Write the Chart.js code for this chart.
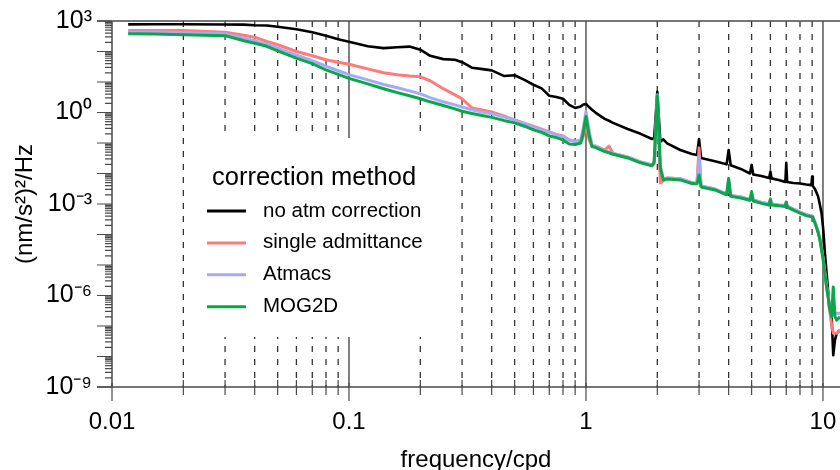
<!DOCTYPE html>
<html>
<head>
<meta charset="utf-8">
<script src="https://cdn.jsdelivr.net/npm/chart.js@4/dist/chart.umd.min.js"></script>
<style>
html,body{margin:0;padding:0;background:#ffffff;}
canvas{display:block;}
</style>
</head>
<body>
<canvas id="c" width="840" height="470"></canvas>
<script>
// ---------------- data ----------------
const frequency = [0.0117,0.015,0.02,0.03,0.036,0.04,0.045,0.05,0.06,0.07,0.08,0.09,0.1,0.12,0.14,0.16,0.18,0.2,0.22,0.25,0.28,0.3,0.33,0.36,0.4,0.45,0.5,0.55,0.6,0.65,0.7,0.75,0.8,0.85,0.9,0.95,0.97,1.0,1.03,1.06,1.1,1.2,1.25,1.3,1.5,1.7,1.9,1.94,2.0,2.06,2.12,2.2,2.5,2.8,2.94,3.0,3.06,3.5,3.92,4.0,4.08,4.5,4.92,5.0,5.08,5.5,5.93,6.0,6.07,6.5,6.94,7.0,7.06,7.5,8.0,8.5,8.94,9.0,9.06,9.25,9.55,9.71,9.87,10.03,10.19,10.36,10.53,10.63,10.88,11.05,11.23,11.42,11.8];

const noAtmCorrection = [776,785,785,767,759,724,708,646,537,427,331,251,209,148,129,138,145,115,72.4,56.2,53.7,44.7,29.5,26.9,24.0,15.8,16.6,11.7,8.13,6.17,3.55,3.24,2.82,1.78,1.41,1.58,1.78,1.91,1.51,1.23,0.977,0.617,0.537,0.457,0.288,0.200,0.135,0.148,4.79,0.110,0.132,0.0977,0.0589,0.0437,0.0407,0.135,0.0324,0.0251,0.0200,0.0589,0.0186,0.0141,0.0100,0.0191,0.00933,0.00832,0.00708,0.0115,0.00692,0.00617,0.00525,0.0224,0.00525,0.00490,0.00468,0.00437,0.00417,0.00794,0.00389,0.00309,0.00174,9.33e-4,4.90e-4,1.41e-4,2.45e-5,5.37e-6,1.20e-6,4.79e-7,2.00e-7,1.10e-8,3.39e-8,5.75e-8,7.24e-8];

const singleAdmittance = [490,490,490,427,339,295,214,166,100,72.4,53.7,44.7,38.0,26.9,20.0,17.4,15.8,14.8,11.0,6.03,3.80,2.82,1.41,1.23,1.05,0.776,0.575,0.437,0.355,0.282,0.229,0.191,0.170,0.126,0.117,0.117,0.148,0.447,0.132,0.0794,0.0794,0.0589,0.0794,0.0457,0.0347,0.0240,0.0191,0.0204,2.63,0.00490,0.00575,0.00708,0.00676,0.00501,0.00490,0.0692,0.00389,0.00309,0.00214,0.00417,0.00191,0.00170,0.00141,0.00200,0.00135,0.00112,0.00100,0.00135,0.00100,9.33e-4,8.91e-4,0.00115,8.51e-4,6.76e-4,5.37e-4,4.47e-4,4.07e-4,3.98e-4,3.72e-4,2.57e-4,1.20e-4,7.08e-5,3.31e-5,1.55e-5,5.37e-6,2.00e-6,8.91e-7,3.98e-7,1.07e-7,5.75e-8,5.75e-8,5.75e-8,7.24e-8];

const atmacs = [437,432,417,380,275,224,174,129,75.9,50.1,33.1,23.4,17.4,11.7,8.32,6.46,5.13,4.07,3.09,2.24,1.78,1.51,1.23,1.05,0.912,0.724,0.575,0.437,0.339,0.269,0.224,0.191,0.158,0.126,0.112,0.126,0.269,1.07,0.269,0.0871,0.0776,0.0575,0.0513,0.0457,0.0347,0.0240,0.0191,0.0257,3.80,0.0178,0.00661,0.00708,0.00676,0.00501,0.00490,0.0355,0.00389,0.00309,0.00214,0.00617,0.00191,0.00170,0.00141,0.00200,0.00135,0.00112,0.00100,0.00135,0.00100,9.33e-4,8.91e-4,0.00115,8.51e-4,6.76e-4,5.37e-4,4.47e-4,4.07e-4,3.98e-4,3.72e-4,2.57e-4,1.20e-4,7.08e-5,3.31e-5,1.55e-5,5.37e-6,2.00e-6,8.91e-7,5.01e-7,2.63e-7,7.08e-7,2.63e-7,2.63e-7,2.63e-7];

const mog2d = [380,372,355,331,224,186,148,105,60.3,39.8,25.1,17.8,13.2,8.71,6.03,4.47,3.55,2.82,2.24,1.70,1.32,1.10,0.933,0.813,0.692,0.550,0.457,0.355,0.269,0.224,0.170,0.151,0.126,0.0933,0.0891,0.100,0.182,0.741,0.182,0.0759,0.0708,0.0525,0.0479,0.0427,0.0324,0.0224,0.0178,0.0240,3.55,0.0151,0.00617,0.00661,0.00617,0.00468,0.00457,0.00891,0.00363,0.00288,0.00200,0.00692,0.00178,0.00158,0.00132,0.00251,0.00126,0.00105,9.33e-4,0.00145,9.33e-4,8.71e-4,8.32e-4,0.00115,7.94e-4,6.31e-4,5.01e-4,4.17e-4,3.80e-4,3.72e-4,3.47e-4,2.40e-4,1.12e-4,6.61e-5,3.09e-5,1.45e-5,5.01e-6,1.91e-6,8.13e-7,4.27e-7,2.00e-7,1.91e-6,2.09e-7,1.55e-7,2.00e-7];

const seriesNames  = ['no atm correction','single admittance','Atmacs','MOG2D'];
const seriesColors = ['#000000','#ff7b7b','#a4aaf6','#0aa64a'];
const xTickValues = [0.01,0.1,1,10];
const xTickLabels = ['0.01','0.1','1','10'];
const yTickValues = [1e3,1e0,1e-3,1e-6,1e-9];
const yTickLabels = ['10³','10⁰','10⁻³','10⁻⁶','10⁻⁹'];
const legendTitle = 'correction method';
const xAxisTitle = 'frequency/cpd';
const yAxisTitle = '(nm/s²)²/Hz';

// ---------------- chart ----------------
Chart.defaults.font.family = "'Liberation Sans', Arial, Helvetica, sans-serif";
Chart.defaults.color = '#000000';

const seriesValues = [noAtmCorrection, singleAdmittance, atmacs, mog2d];
const datasets = seriesValues.map((vals, i) => ({
  label: seriesNames[i],
  data: frequency.map((f, k) => ({x: f, y: vals[k]})),
  borderColor: seriesColors[i],
  backgroundColor: seriesColors[i],
  borderWidth: i === 0 ? 2.6 : 3,
  pointRadius: 0,
  tension: 0,
  fill: false,
  borderJoinStyle: 'round',
  order: 3 - i
}));

const AXIS = '#4a4a4a';
function seg(ctx, x1, y1, x2, y2) { ctx.moveTo(x1, y1); ctx.lineTo(x2, y2); }

const framePlugin = {
  id: 'frame',
  beforeDatasetsDraw(chart) {
    const {ctx, chartArea: a, scales: {x}} = chart;
    ctx.save();
    for (let e = -2; e <= 1; e++) {
      for (let m = 1; m <= 9; m++) {
        const v = m * Math.pow(10, e);
        if (v <= x.min * 1.0001 || v > x.max) continue;
        const px = x.getPixelForValue(v);
        ctx.beginPath();
        if (m === 1) { ctx.setLineDash([]); ctx.strokeStyle = '#555555'; ctx.lineWidth = 1.5; }
        else { ctx.setLineDash([6, 7]); ctx.strokeStyle = '#333333'; ctx.lineWidth = 1.3; }
        seg(ctx, px, a.top, px, a.bottom);
        ctx.stroke();
      }
    }
    ctx.restore();
  },
  afterDatasetsDraw(chart) {
    const {ctx, chartArea: a, scales: {x, y}} = chart;
    ctx.save();
    // legend (inside plot, white box hides grid lines)
    const lx = a.left + 78, ly = a.top + 117;
    ctx.fillStyle = '#ffffff';
    ctx.fillRect(lx, ly, 260, 199);
    ctx.fillStyle = '#000000';
    ctx.textAlign = 'left';
    ctx.textBaseline = 'alphabetic';
    ctx.font = "25.5px 'Liberation Sans', Arial, sans-serif";
    ctx.fillText(legendTitle, lx + 22, ly + 47);
    ctx.font = "20.5px 'Liberation Sans', Arial, sans-serif";
    seriesNames.forEach((name, i) => {
      const yy = ly + 73 + i * 31.9;
      ctx.beginPath();
      ctx.strokeStyle = seriesColors[i];
      ctx.lineWidth = 3;
      seg(ctx, lx + 17, yy, lx + 56, yy);
      ctx.stroke();
      ctx.fillText(name, lx + 73, yy + 5.5);
    });
    // axes frame
    ctx.setLineDash([]);
    ctx.strokeStyle = AXIS;
    ctx.lineWidth = 1.5;
    ctx.beginPath();
    seg(ctx, a.left - 15, a.top, a.right, a.top);
    seg(ctx, a.left, a.top, a.left, a.bottom);
    seg(ctx, a.left - 15, a.bottom, a.right, a.bottom);
    ctx.stroke();
    // y ticks
    ctx.lineWidth = 1.2;
    ctx.beginPath();
    for (let e = -9; e <= 3; e++) {
      const py = y.getPixelForValue(Math.pow(10, e));
      seg(ctx, a.left - 15, py, a.left, py);
      if (e < 3) {
        for (let m = 2; m <= 9; m++) {
          const pm = y.getPixelForValue(m * Math.pow(10, e));
          seg(ctx, a.left - 7, pm, a.left, pm);
        }
      }
    }
    ctx.stroke();
    // x ticks
    ctx.beginPath();
    for (let e = -2; e <= 1; e++) {
      for (let m = 1; m <= 9; m++) {
        const v = m * Math.pow(10, e);
        if (v > x.max) continue;
        const px = x.getPixelForValue(v);
        if (m === 1) seg(ctx, px, a.bottom - 4, px, a.bottom + 14);
        else seg(ctx, px, a.bottom - 7, px, a.bottom + 8);
      }
    }
    ctx.stroke();
    ctx.restore();
  }
};

function zeroPad(scale) {
  scale.paddingLeft = 0; scale.paddingRight = 0;
  scale.paddingTop = 0; scale.paddingBottom = 0;
}

new Chart(document.getElementById('c'), {
  type: 'line',
  data: {datasets},
  options: {
    responsive: false,
    animation: false,
    devicePixelRatio: 1,
    layout: {padding: {top: 21, right: 0, bottom: 0, left: 0}},
    plugins: {legend: {display: false}, tooltip: {enabled: false}},
    scales: {
      x: {
        type: 'logarithmic',
        min: 0.01,
        max: 11.8,
        bounds: 'data',
        grid: {display: false},
        border: {display: false},
        afterBuildTicks: (s) => { s.ticks = xTickValues.map(v => ({value: v})); },
        afterFit: (s) => { s.height = 83; zeroPad(s); },
        ticks: {
          autoSkip: false,
          maxRotation: 0,
          padding: 13,
          font: {size: 24, lineHeight: 1.2},
          callback: (v) => xTickLabels[xTickValues.indexOf(v)]
        },
        title: {display: true, text: xAxisTitle, font: {size: 24, lineHeight: 0.8}, padding: {top: 0, bottom: 0}}
      },
      y: {
        type: 'logarithmic',
        min: 1e-9,
        max: 1e3,
        bounds: 'data',
        grid: {display: false},
        border: {display: false},
        afterBuildTicks: (s) => { s.ticks = yTickValues.map(v => ({value: v})); },
        afterFit: (s) => { s.width = 112; zeroPad(s); },
        ticks: {
          autoSkip: false,
          padding: 12,
          font: {size: 25},
          callback: (v) => yTickLabels[yTickValues.indexOf(v)]
        },
        title: {display: true, text: yAxisTitle, font: {size: 24, lineHeight: 0.8}, padding: {top: 15.4, bottom: 0}}
      }
    }
  },
  plugins: [framePlugin]
});
</script>
</body>
</html>
